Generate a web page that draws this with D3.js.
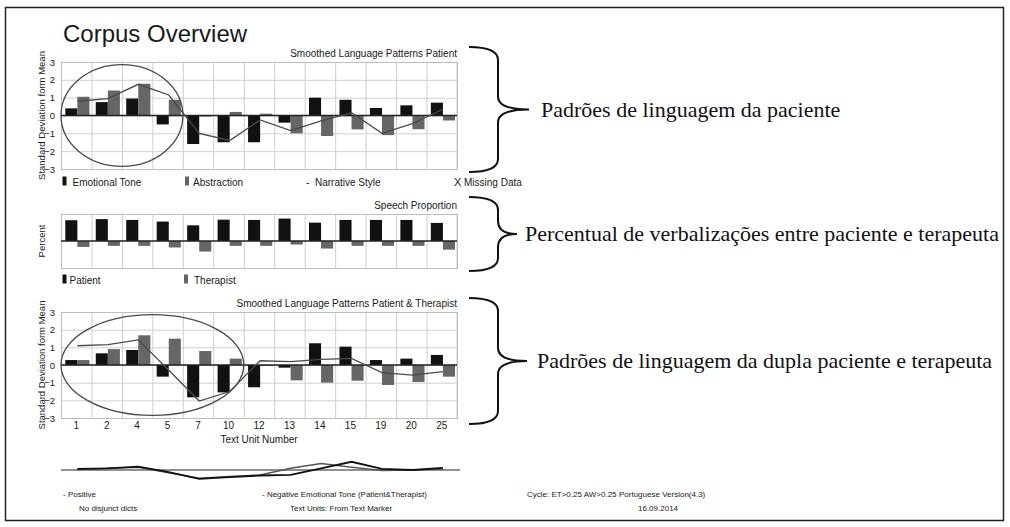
<!DOCTYPE html>
<html>
<head>
<meta charset="utf-8">
<script src="https://cdn.jsdelivr.net/npm/d3@7/dist/d3.min.js"></script>
<style>
	body { margin: 0; background: #fff; }
	text { font-family: "Liberation Sans", Arial, Helvetica, sans-serif; fill: #1a1a1a; }
	text.note { font-family: "Liberation Serif", "Times New Roman", serif; fill: #111; }
</style>
</head>
<body>
<svg id="chart" width="1010" height="527"></svg>
<script>
// text units on the x axis
var units = ["1", "2", "4", "5", "7", "10", "12", "13", "14", "15", "19", "20", "25"];

// Smoothed Language Patterns Patient
var patientTone        = [0.4, 0.75, 0.95, -0.5, -1.6, -1.5, -1.5, -0.4, 1.0, 0.88, 0.42, 0.57, 0.72];
var patientAbstraction = [1.05, 1.4, 1.78, 0.88, -0.05, 0.2, 0.1, -1.0, -1.15, -0.78, -1.1, -0.77, -0.28];
var patientNarrative   = [0.8, 0.95, 1.75, 1.15, -1.0, -1.4, -0.25, -0.85, -0.3, 0.15, -1.0, -0.45, 0.35];

// Speech Proportion (percent)
var speechPatient   = [77, 81, 78, 72, 58, 79, 78, 83, 68, 78, 78, 78, 67];
var speechTherapist = [22, 18, 18, 24, 39, 18, 18, 13, 28, 18, 18, 18, 32];

// Smoothed Language Patterns Patient & Therapist
var pairTone        = [0.28, 0.66, 0.85, -0.66, -1.83, -1.55, -1.26, -0.15, 1.23, 1.04, 0.28, 0.36, 0.57];
var pairAbstraction = [0.28, 0.9, 1.68, 1.49, 0.79, 0.36, 0.0, -0.87, -1.0, -0.89, -1.13, -0.96, -0.66];
var pairNarrative   = [1.09, 1.15, 1.42, -0.3, -2.04, -1.5, 0.24, 0.19, 0.32, 0.38, -0.43, -0.57, -0.38];

// emotional tone strip (Patient&Therapist)
var positiveTone = [0.1, 0.15, 0.3, -0.2, -0.8, -0.65, -0.5, -0.45, 0.15, 0.75, 0.1, 0.0, 0.2];
var negativeTone = [0.05, 0.15, 0.25, -0.25, -0.75, -0.6, -0.45, 0.15, 0.6, 0.25, -0.05, 0.0, 0.1];

var sdTicks = [-3, -2, -1, 0, 1, 2, 3];

var svg = d3.select("#chart");
var black = "#111", grey = "#666", lineCol = "#4a4a4a", gridCol = "#cfcfcf";

// frame round the page
svg.append("rect")
	.attr("x", 5.5).attr("y", 7.5)
	.attr("width", 998).attr("height", 513)
	.attr("fill", "none").attr("stroke", "#222").attr("stroke-width", 1.5);

svg.append("text")
	.attr("x", 63).attr("y", 42)
	.style("font-size", "24px")
	.text("Corpus Overview");

var x = d3.scaleBand().domain(units).range([61, 457]);
var inner = d3.scaleBand().domain(["a", "b"]).range([4.3, x.bandwidth() - 2]);

function panel(opt) {
	var y = d3.scaleLinear().domain(opt.domain).range([opt.bottom, opt.top]);
	var g = svg.append("g");

	// grid
	if (opt.hgrid) {
		g.selectAll(".hg").data(opt.hgrid).enter().append("line")
			.attr("x1", x.range()[0]).attr("x2", x.range()[1])
			.attr("y1", function(d) { return y(d) + 0.5; })
			.attr("y2", function(d) { return y(d) + 0.5; })
			.attr("stroke", gridCol);
	}
	g.selectAll(".vg").data(units.concat(["end"])).enter().append("line")
		.attr("x1", function(d) { return d == "end" ? x.range()[1] : x(d) + 0.5; })
		.attr("x2", function(d) { return d == "end" ? x.range()[1] : x(d) + 0.5; })
		.attr("y1", opt.top).attr("y2", opt.bottom)
		.attr("stroke", gridCol);
	g.append("rect")
		.attr("x", x.range()[0] + 0.5).attr("y", opt.top + 0.5)
		.attr("width", x.range()[1] - x.range()[0]).attr("height", opt.bottom - opt.top)
		.attr("fill", "none").attr("stroke", "#bdbdbd");

	// bars
	[[opt.a, "a", black], [opt.b, "b", grey]].forEach(function(s) {
		g.selectAll(null).data(s[0]).enter().append("rect")
			.attr("x", function(d, i) { return x(units[i]) + inner(s[1]); })
			.attr("width", inner.bandwidth())
			.attr("y", function(d) { return y(Math.max(0, d)); })
			.attr("height", function(d) { return Math.max(1, Math.abs(y(d) - y(0))); })
			.attr("fill", s[2]);
	});

	g.append("line")
		.attr("x1", x.range()[0]).attr("x2", x.range()[1])
		.attr("y1", y(0)).attr("y2", y(0))
		.attr("stroke", "#222").attr("stroke-width", 1.6);

	if (opt.line) {
		var ln = d3.line()
			.x(function(d, i) { return x(units[i]) + inner("b"); })
			.y(function(d) { return y(d); });
		g.append("path").datum(opt.line)
			.attr("d", ln).attr("fill", "none")
			.attr("stroke", lineCol).attr("stroke-width", 1.3);
	}

	if (opt.ring) {
		var x0 = x(opt.ring[0]), x1 = x(opt.ring[1]) + x.bandwidth();
		g.append("ellipse")
			.attr("cx", (x0 + x1) / 2).attr("cy", y(0))
			.attr("rx", (x1 - x0) / 2).attr("ry", y(-opt.ring[2]) - y(0))
			.attr("fill", "none").attr("stroke", lineCol).attr("stroke-width", 1.3);
	}

	if (opt.ticks) {
		var ax = g.append("g")
			.attr("transform", "translate(" + x.range()[0] + ",0)")
			.call(d3.axisLeft(y).tickValues(opt.ticks).tickSize(0).tickPadding(6).tickFormat(d3.format("d")));
		ax.select(".domain").remove();
		ax.selectAll("text").style("font-size", "9.5px").attr("fill", "#1a1a1a").style("font-family", null);
	}

	g.append("text")
		.attr("transform", "translate(45," + ((opt.top + opt.bottom) / 2) + ") rotate(-90)")
		.attr("text-anchor", "middle")
		.style("font-size", "9.5px")
		.text(opt.ylabel);

	g.append("text")
		.attr("x", x.range()[1]).attr("y", opt.top - 5.5)
		.attr("text-anchor", "end")
		.style("font-size", "10px")
		.text(opt.title);

	return y;
}

panel({
	top: 62, bottom: 169, domain: [-3, 3], hgrid: sdTicks, ticks: sdTicks,
	a: patientTone, b: patientAbstraction, line: patientNarrative, ring: ["1", "5", 2.85],
	ylabel: "Standard Deviation form Mean", title: "Smoothed Language Patterns Patient"
});

panel({
	top: 214, bottom: 268, domain: [-100, 100],
	a: speechPatient, b: speechTherapist.map(function(v) { return -v; }),
	ylabel: "Percent", title: "Speech Proportion"
});

panel({
	top: 312, bottom: 418, domain: [-3, 3], hgrid: sdTicks, ticks: sdTicks,
	a: pairTone, b: pairAbstraction, line: pairNarrative, ring: ["1", "10", 2.85],
	ylabel: "Standard Deviation form Mean", title: "Smoothed Language Patterns Patient & Therapist"
});

var xAxis = svg.append("g")
	.attr("transform", "translate(0,418)")
	.call(d3.axisBottom(x).tickSize(0).tickPadding(3.5));
xAxis.select(".domain").remove();
xAxis.selectAll("text").style("font-size", "10px").attr("fill", "#1a1a1a").style("font-family", null);

svg.append("text")
	.attr("x", 259).attr("y", 443)
	.attr("text-anchor", "middle")
	.style("font-size", "10px")
	.text("Text Unit Number");

// legends
function legend(items, yBase) {
	items.forEach(function(it) {
		if (it.kind == "bar") {
			svg.append("rect").attr("x", it.x).attr("y", yBase - 9)
				.attr("width", 4).attr("height", 9).attr("fill", it.color);
		} else {
			svg.append("text").attr("x", it.x).attr("y", yBase)
				.style("font-size", it.kind == "x" ? "11px" : "10px")
				.attr("fill", "#444")
				.text(it.kind == "x" ? "X" : "-");
		}
		svg.append("text").attr("x", it.tx).attr("y", yBase)
			.style("font-size", "10px").text(it.label);
	});
}
legend([
	{kind: "bar", color: black, x: 62.5, tx: 72.5, label: "Emotional Tone"},
	{kind: "bar", color: grey, x: 185, tx: 193, label: "Abstraction"},
	{kind: "dash", x: 306, tx: 315, label: "Narrative Style"},
	{kind: "x", x: 454, tx: 464, label: "Missing Data"}
], 185.5);
legend([
	{kind: "bar", color: black, x: 62.5, tx: 69.5, label: "Patient"},
	{kind: "bar", color: grey, x: 184, tx: 194, label: "Therapist"}
], 283.5);

// emotional tone strip
var ys = d3.scaleLinear().domain([-1, 1]).range([481, 459]);
svg.append("line")
	.attr("x1", x.range()[0]).attr("x2", x.range()[1] + 3)
	.attr("y1", ys(0)).attr("y2", ys(0))
	.attr("stroke", "#222").attr("stroke-width", 1.2);
var stripLine = d3.line()
	.x(function(d, i) { return x(units[i]) + inner("b"); })
	.y(function(d) { return ys(d); });
svg.append("path").datum(negativeTone).attr("d", stripLine)
	.attr("fill", "none").attr("stroke", "#555").attr("stroke-width", 1.5);
svg.append("path").datum(positiveTone).attr("d", stripLine)
	.attr("fill", "none").attr("stroke", "#111").attr("stroke-width", 1.8);

var foot = [
	{x: 63, y: 497, t: "- Positive"},
	{x: 262, y: 497, t: "- Negative Emotional Tone (Patient&Therapist)"},
	{x: 527, y: 497, t: "Cycle: ET>0.25 AW>0.25"},
	{x: 619, y: 497, t: "Portuguese Version(4.3)"},
	{x: 79, y: 511, t: "No disjunct dicts"},
	{x: 290, y: 511, t: "Text Units: From Text Marker"},
	{x: 638, y: 511, t: "16.09.2014"}
];
svg.selectAll(".foot").data(foot).enter().append("text")
	.attr("x", function(d) { return d.x; })
	.attr("y", function(d) { return d.y; })
	.style("font-size", "8px")
	.text(function(d) { return d.t; });

// braces and Portuguese notes
function brace(x0, y0, y1, w) {
	var mid = (y0 + y1) / 2, sx = x0 + 29, tip = x0 + w, r = 13;
	var p = d3.path();
	p.moveTo(x0, y0);
	p.quadraticCurveTo(sx, y0, sx, y0 + r);
	p.lineTo(sx, mid - r);
	p.quadraticCurveTo(sx, mid, tip, mid);
	p.quadraticCurveTo(sx, mid, sx, mid + r);
	p.lineTo(sx, y1 - r);
	p.quadraticCurveTo(sx, y1, x0, y1);
	return p.toString();
}
var notes = [
	{y0: 47, y1: 172, w: 60, tx: 541, t: "Padrões de linguagem da paciente"},
	{y0: 197, y1: 271, w: 48, tx: 525, t: "Percentual de verbalizações entre paciente e terapeuta"},
	{y0: 298, y1: 424, w: 58, tx: 537, t: "Padrões de linguagem da dupla paciente e terapeuta"}
];
notes.forEach(function(n) {
	svg.append("path").attr("d", brace(469, n.y0, n.y1, n.w))
		.attr("fill", "none").attr("stroke", "#111").attr("stroke-width", 2);
	svg.append("text").attr("class", "note")
		.attr("x", n.tx).attr("y", (n.y0 + n.y1) / 2 + 7)
		.style("font-size", "22px")
		.text(n.t);
});
</script>
</body>
</html>
